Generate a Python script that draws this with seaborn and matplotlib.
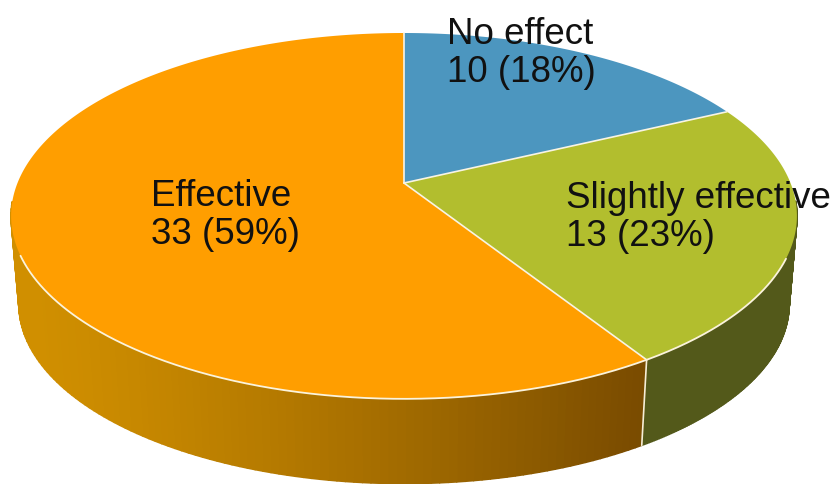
import numpy as np
import matplotlib
matplotlib.use("Agg")
import matplotlib.pyplot as plt
from matplotlib.collections import PolyCollection
from matplotlib.colors import to_rgb
import seaborn as sns

categories = ["No effect", "Slightly effective", "Effective"]
counts = [10, 13, 33]
percents = [18, 23, 59]
top_colors = ["#4C96BF", "#B2BE2E", "#FF9E00"]
wall_colors = ["#2C5870", "#53591A", "#D08F00"]
wall_dark = "#7A4C00"
label_xy = [(447, 44), (566, 208), (151, 206)]

sns.set_theme(style="white")
plt.rcParams["font.family"] = ["Liberation Sans", "DejaVu Sans"]
palette = sns.color_palette(top_colors)

# perspective projection of the pie disc onto the picture
CX, CY, BX, AY, P = 404.0, 183.0, 386.5, 177.0, -0.18
DROP, SHRINK = 89.0, 0.98


def project(theta, r=1.0):
    X, Y = r * np.sin(theta), r * np.cos(theta)
    d = 1 - P * Y
    return CX + BX * X / d, CY - AY * Y / d


def project_bottom(theta):
    x, y = project(theta)
    return CX + SHRINK * (x - CX), CY + DROP + SHRINK * (y - CY)


fig = plt.figure(figsize=(8.36, 4.84), dpi=100)
ax = fig.add_axes([0, 0, 1, 1])
ax.set_xlim(0, 836)
ax.set_ylim(484, 0)
ax.axis("off")

counts_arr = np.array(counts, dtype=float)
edges = np.concatenate([[0], np.cumsum(counts_arr)]) / counts_arr.sum() * 2 * np.pi

# side wall (front part only; the back is hidden by the top face)
polys, cols = [], []
for i in range(len(counts)):
    th = np.linspace(edges[i], edges[i + 1], 200)
    for a, b in zip(th[:-1], th[1:]):
        if np.cos(a) > -0.1 or np.cos(b) > -0.1:
            continue
        x1, y1 = project(a)
        x2, y2 = project(b)
        x3, y3 = project_bottom(b)
        x4, y4 = project_bottom(a)
        polys.append([(x1, y1), (x2, y2), (x3, y3), (x4, y4)])
        if i == 2:
            t = np.clip((0.5 * (x1 + x2) - 30) / 610, 0, 1) ** 1.25
            c = (1 - t) * np.array(to_rgb(wall_colors[2])) + t * np.array(to_rgb(wall_dark))
        else:
            c = np.array(to_rgb(wall_colors[i]))
        cols.append(c)
ax.add_collection(PolyCollection(polys, facecolors=cols, edgecolors=cols, linewidths=1.2, zorder=1))

# wall seam between green and orange
xa, ya = project(edges[2])
xb, yb = project_bottom(edges[2])
ax.plot([xa, xb], [ya, yb], color="#F4EFD8", lw=1.2, zorder=2)

# top faces
for i in range(len(counts)):
    th = np.linspace(edges[i], edges[i + 1], 300)
    x, y = project(th)
    ax.fill(np.r_[CX, x], np.r_[CY, y], facecolor=palette[i], edgecolor="none", zorder=3)

# white separators and front rim
for e in edges[:3]:
    x, y = project(e)
    ax.plot([CX, x], [CY, y], color="#F8F4E4", lw=1.2, zorder=4)
rim = np.linspace(np.pi * 0.63, np.pi * 1.375, 400)
x, y = project(rim)
ax.plot(x, y, color="#FBF3DC", lw=1.3, zorder=4)

for cat, n, p, (tx, ty) in zip(categories, counts, percents, label_xy):
    ax.text(tx, ty, cat, fontsize=26.5, color="#111111", ha="left", va="baseline", zorder=5)
    ax.text(tx, ty + 38, f"{n} ({p}%)", fontsize=26.5, color="#111111", ha="left", va="baseline", zorder=5)

fig.savefig("out.png", dpi=100)
